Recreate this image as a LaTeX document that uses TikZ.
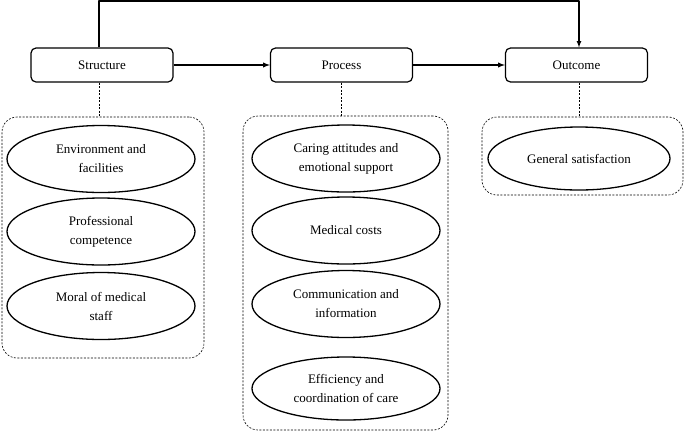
\documentclass[tikz,border=0pt]{standalone}
\usepackage{fontspec}
\setmainfont{Liberation Serif}
\usetikzlibrary{shapes.geometric}
\begin{document}
\begin{tikzpicture}[x=1pt, y=-1pt, >=latex, line join=round,
  stage/.style={draw, line width=1.2pt, rounded corners=5pt, minimum width=142pt, minimum height=34pt, font=\fontsize{13}{19}\selectfont},
  item/.style={draw, line width=1.3pt, ellipse, minimum width=188pt, minimum height=67pt, inner sep=0pt, align=center, font=\fontsize{13}{19}\selectfont},
  group/.style={draw, line width=0.6pt, dash pattern=on 2pt off 1.5pt, rounded corners=15pt},
  link/.style={line width=0.6pt, dash pattern=on 2pt off 1.5pt}]
  \useasboundingbox (0,0) rectangle (685,432);
  % the three stages
  \node[stage] (structure) at (102,65) {Structure};
  \node[stage] (process) at (341.5,65) {Process};
  \node[stage] (outcome) at (576.5,65) {Outcome};
  \draw[->, line width=1.3pt] (structure) -- (process);
  \draw[->, line width=1.3pt] (process) -- (outcome);
  \coordinate (top) at (341,1);
  \draw[->, line width=1.2pt] ([xshift=-3pt]structure.north) |- (top) -| ([xshift=2.5pt]outcome.north);
  % dashed groups
  \node[group, minimum width=202pt, minimum height=241pt] (sgroup) at (103,237.5) {};
  \node[group, minimum width=205pt, minimum height=314pt] (pgroup) at (345.5,273) {};
  \node[group, minimum width=201pt, minimum height=78pt] (ogroup) at (582.5,156) {};
  \draw[link] ([xshift=-3pt]structure.south) -- ([xshift=-3pt]structure.south |- sgroup.north);
  \draw[link] (process.south) -- (process.south |- pgroup.north);
  \draw[link] ([xshift=3pt]outcome.south) -- ([xshift=3pt]outcome.south |- ogroup.north);
  % items of structure
  \node[item] (env) at (101,159) {Environment and\\facilities};
  \node[item] (prof) at (101,231.5) {Professional\\competence};
  \node[item] (moral) at (101,306) {Moral of medical\\staff};
  % items of process
  \node[item] (caring) at (346,158.5) {Caring attitudes and\\emotional support};
  \node[item] (costs) at (346,230.5) {Medical costs};
  \node[item] (comm) at (346,304) {Communication and\\information};
  \node[item, minimum height=63pt] (eff) at (346,388.5) {Efficiency and\\coordination of care};
  % item of outcome
  \node[item, minimum width=182pt, minimum height=63pt] (general) at (579,158.5) {General satisfaction};
\end{tikzpicture}
\end{document}
